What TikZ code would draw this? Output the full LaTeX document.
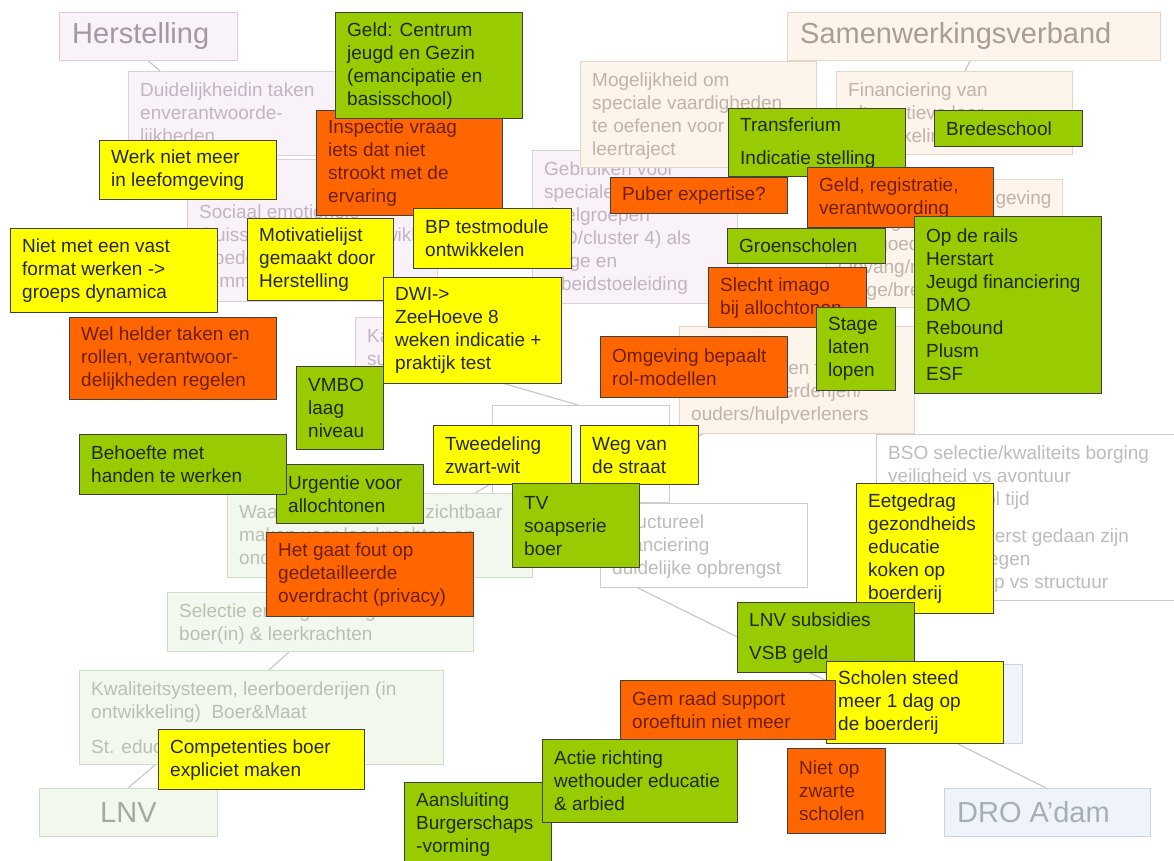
\documentclass[tikz,border=0pt]{standalone}
\usepackage{fontspec}
\setmainfont{Liberation Sans}
\usepackage{xcolor}
\usetikzlibrary{backgrounds}

% sticky note colours
\definecolor{noteyellow}{HTML}{FFFF00}
\definecolor{noteorange}{HTML}{FF6600}
\definecolor{notegreen}{HTML}{99CC00}
\definecolor{yeltext}{HTML}{262626}
\definecolor{orgtext}{HTML}{6E1E00}
\definecolor{grntext}{HTML}{1E2A05}
% faded mind map colours
\definecolor{herfill}{HTML}{F9F2F9}
\definecolor{herline}{HTML}{DCCFDC}
\definecolor{hertext}{HTML}{C2B4C2}
\definecolor{herhead}{HTML}{A597A5}
\definecolor{peachfill}{HTML}{FDF4EC}
\definecolor{peachline}{HTML}{E6D6CA}
\definecolor{peachtext}{HTML}{C0B4AA}
\definecolor{peachhead}{HTML}{A89E96}
\definecolor{lnvfill}{HTML}{F3F8EE}
\definecolor{lnvline}{HTML}{D2DDC9}
\definecolor{lnvtext}{HTML}{B9C0B1}
\definecolor{lnvhead}{HTML}{A5AAA0}
\definecolor{drofill}{HTML}{EEF4F9}
\definecolor{droline}{HTML}{C8D8E2}
\definecolor{drohead}{HTML}{A7AFB6}
\definecolor{centline}{HTML}{CDCDCD}
\definecolor{centtext}{HTML}{BCBCBC}
\definecolor{linkgray}{HTML}{C9C9C9}

\newcommand{\notefont}{\fontsize{19}{23}\selectfont}
\newcommand{\headfont}{\fontsize{29}{33}\selectfont}

\tikzset{
  note/.style={anchor=north west, inner sep=0pt, draw=black!75, line width=1.3pt},
  notetext/.style={anchor=west, xshift=12pt, inner sep=0pt, align=left, font=\notefont},
  yel/.style={note, fill=noteyellow, label={[notetext, text=yeltext]west:{#1}}},
  org/.style={note, fill=noteorange, label={[notetext, text=orgtext]west:{#1}}},
  grn/.style={note, fill=notegreen, label={[notetext, text=grntext]west:{#1}}},
  fade/.style={anchor=north west, inner sep=0pt, line width=1pt},
  her/.style={fade, draw=herline, fill=herfill},
  peach/.style={fade, draw=peachline, fill=peachfill},
  lnvbox/.style={fade, draw=lnvline, fill=lnvfill},
  drobox/.style={fade, draw=droline, fill=drofill},
  centbox/.style={fade, draw=centline, fill=white},
  fadetext/.style={anchor=north west, xshift=12pt, yshift=-12pt, inner sep=0pt, align=left, font=\notefont},
  herlab/.style={label={[fadetext, text=hertext]north west:{#1}}},
  peachlab/.style={label={[fadetext, text=peachtext]north west:{#1}}},
  lnvlab/.style={label={[fadetext, text=lnvtext]north west:{#1}}},
  centlab/.style={label={[fadetext, text=centtext]north west:{#1}}},
  headtext/.style={anchor=west, xshift=13pt, inner sep=0pt, font=\headfont},
  htxt/.style 2 args={label={[headtext, text=#1]west:{#2}}},
  link/.style={draw=linkgray, line width=1.2pt},
}

\begin{document}
\begin{tikzpicture}[x=1pt, y=-1pt]

    \useasboundingbox (0,0) rectangle (1174,861);

    % Herstelling branch
    \node[her, htxt={herhead}{Herstelling}, minimum width=178pt, minimum height=48pt] (herst) at (59,12) {};
    \node[her, herlab={Duidelijkheidin taken\\enverantwoorde-\\lijkheden}, minimum width=217pt, minimum height=84pt] (duid) at (128,71) {};
    \node[her, minimum width=250pt, minimum height=142pt,
          label={[fadetext, text=hertext, yshift=-34pt]north west:{Sociaal emotionele\\thuissituatie en de ontwikkeling\\Goede begeleiding\\communicatie}}] (soc) at (187,159) {};
    \node[her, herlab={Kansen voor\\succeservaringen}, minimum width=185pt, minimum height=61pt] (kans) at (355,317) {};
    \node[her, herlab={Gebruiken voor\\speciale\\doelgroepen\\(SO/cluster 4) als\\stage en\\arbeidstoeleiding}, minimum width=205pt, minimum height=153pt] (gebr) at (532,150) {};

    % Samenwerkingsverband branch
    \node[peach, htxt={peachhead}{Samenwerkingsverband}, minimum width=373pt, minimum height=48pt] (samen) at (787,12) {};
    \node[peach, peachlab={Financiering van\\alternatieve leer-\\ontwikkelingstrajecten}, minimum width=236pt, minimum height=83pt] (fin) at (836,71) {};
    \node[peach, peachlab={Mogelijkheid om\\speciale vaardigheden\\te oefenen voor een\\leertraject}, minimum width=236pt, minimum height=106pt] (mog) at (580,61) {};
    \node[peach, peachlab={Leren in de leefomgeving\\en zorg\\Een goed systeem\\Opvang/maatjes\\Stage/bredeschool}, minimum width=236pt, minimum height=128pt] (p3) at (826,179) {};
    \node[peach, peachlab={Goed\\samenwerken tussen\\scholen/boerderijen/\\ouders/hulpverleners}, minimum width=235pt, minimum height=107pt] (p4) at (679,326) {};

    % Centre
    \node[centbox, minimum width=177pt, minimum height=97pt] (cent) at (492,405) {};
    \node[centbox, centlab={Structureel\\financiering\\duidelijke opbrengst}, minimum width=207pt, minimum height=84pt] (struct) at (600,503) {};
    \node[centbox, centlab={BSO selectie/kwaliteits borging\\veiligheid vs avontuur\\buiten school tijd\\[14pt]Dingen die eerst gedaan zijn\\Risico's afwegen\\Vrijheid groep vs structuur}, minimum width=305pt, minimum height=166pt] (bso) at (876,434) {};

    % LNV branch
    \node[lnvbox, lnvlab={Waarde van boerderij zichtbaar\\maken voor leerkrachten en\\onderwijs}, minimum width=305pt, minimum height=84pt] (waarde) at (227,493) {};
    \node[lnvbox, lnvlab={Selectie en begeleiding\\boer(in) \& leerkrachten}, minimum width=306pt, minimum height=59pt] (sel) at (167,592) {};
    \node[lnvbox, lnvlab={Kwaliteitsysteem, leerboerderijen (in\\ontwikkeling)\ \ Boer\&Maat\\[12pt]St. educatieve boerderijen}, minimum width=364pt, minimum height=94pt] (kwal) at (79,670) {};
    \node[lnvbox, label={[headtext, text=lnvhead, xshift=48pt]west:{LNV}}, minimum width=178pt, minimum height=48pt] (lnv) at (39,788) {};

    % DRO branch
    \node[drobox, minimum width=177pt, minimum height=79pt] (b1) at (845,664) {};
    \node[drobox, htxt={drohead}{DRO A’dam}, minimum width=206pt, minimum height=48pt] (dro) at (944,788) {};

    % Links
    \begin{pgfonlayer}{background}
        \fill[white] (0,0) rectangle (1174,861);
        \draw[link] (herst.south) -- ([xshift=32pt]duid.north west);
        \draw[link] ([xshift=-4pt]samen.south) -- ([xshift=129pt]fin.north west);
        \draw[link] ([xshift=133pt]kans.south west) -- ([xshift=86pt]cent.north west);
        \draw[link] ([yshift=20pt]cent.south west) -- ([xshift=248pt]waarde.north west);
        \draw[link] ([xshift=153pt]waarde.south west) -- ([xshift=183pt]sel.north west);
        \draw[link] ([xshift=122pt]sel.south west) -- ([xshift=190pt]kwal.north west);
        \draw[link] ([xshift=76pt]kwal.south west) -- ([xshift=89pt]lnv.north west);
        \draw[link] ([xshift=24pt]p4.south west) -- ([yshift=-45pt]cent.north east);
        \draw[link] ([xshift=38pt]struct.south west) -- ([yshift=-26pt]b1.north west);
        \draw[link] ([xshift=113pt]b1.south west) -- ([xshift=102pt]dro.north west);
    \end{pgfonlayer}

    % Sticky notes, left side
    \node[yel={Werk niet meer\\in leefomgeving}, minimum width=177pt, minimum height=59pt] (werk) at (99,140) {};
    \node[yel={Niet met een vast\\format werken ->\\groeps dynamica}, minimum width=207pt, minimum height=84pt] (niet) at (10,228) {};
    \node[org={Inspectie vraag\\iets dat niet\\strookt met de\\ervaring}, minimum width=186pt, minimum height=105pt] (insp) at (316,110) {};
    \node[grn={Geld: Centrum\\jeugd en Gezin\\(emancipatie en\\basisschool)}, minimum width=187pt, minimum height=106pt] (geld) at (335,12) {};
    \node[yel={Motivatielijst\\gemaakt door\\Herstelling}, minimum width=146pt, minimum height=82pt] (motiv) at (247,218) {};
    \node[yel={BP testmodule\\ontwikkelen}, minimum width=158pt, minimum height=60pt] (bp) at (413,208) {};
    \node[yel={DWI->\\ZeeHoeve 8\\weken indicatie +\\praktijk test}, minimum width=178pt, minimum height=106pt] (dwi) at (383,277) {};
    \node[org={Wel helder taken en\\rollen, verantwoor-\\delijkheden regelen}, minimum width=207pt, minimum height=82pt] (wel) at (69,317) {};
    \node[grn={VMBO\\laag\\niveau}, minimum width=87pt, minimum height=83pt] (vmbo) at (296,366) {};
    \node[grn={Urgentie voor\\allochtonen}, minimum width=147pt, minimum height=59pt] (urg) at (276,464) {};
    \node[grn={Behoefte met\\handen te werken}, minimum width=207pt, minimum height=60pt] (beh) at (79,434) {};
    \node[org={Het gaat fout op\\gedetailleerde\\overdracht (privacy)}, minimum width=207pt, minimum height=84pt] (fout) at (266,532) {};

    % Sticky notes, middle
    \node[yel={Tweedeling\\zwart-wit}, minimum width=138pt, minimum height=59pt] (twee) at (433,425) {};
    \node[yel={Weg van\\de straat}, minimum width=118pt, minimum height=59pt] (weg) at (580,425) {};
    \node[grn={TV\\soapserie\\boer}, minimum width=127pt, minimum height=84pt] (tv) at (512,483) {};
    \node[org={Omgeving bepaalt\\rol-modellen}, minimum width=187pt, minimum height=61pt] (omg) at (600,336) {};

    % Sticky notes, right side
    \node[grn={Transferium\\[10pt]Indicatie stelling}, minimum width=177pt, minimum height=68pt] (trans) at (728,108) {};
    \node[org={Puber expertise?}, minimum width=177pt, minimum height=36pt] (puber) at (610,177) {};
    \node[org={Geld, registratie,\\verantwoording}, minimum width=186pt, minimum height=60pt] (gldreg) at (807,167) {};
    \node[grn={Bredeschool}, minimum width=148pt, minimum height=36pt] (brede) at (934,110) {};
    \node[grn={Groenscholen}, minimum width=158pt, minimum height=35pt] (groen) at (727,228) {};
    \node[org={Slecht imago\\bij allochtonen}, minimum width=158pt, minimum height=60pt] (slecht) at (708,267) {};
    \node[grn={Stage\\laten\\lopen}, minimum width=79pt, minimum height=83pt] (stage) at (816,307) {};
    \node[grn={Op de rails\\Herstart\\Jeugd financiering\\DMO\\Rebound\\Plusm\\ESF}, minimum width=187pt, minimum height=177pt] (rails) at (914,216) {};

    % Sticky notes, bottom
    \node[yel={Eetgedrag\\gezondheids\\educatie\\koken op\\boerderij}, minimum width=137pt, minimum height=130pt] (eet) at (856,483) {};
    \node[grn={LNV subsidies\\[10pt]VSB geld}, minimum width=177pt, minimum height=70pt] (lnvsub) at (737,602) {};
    \node[yel={Scholen steed\\meer 1 dag op\\de boerderij}, minimum width=177pt, minimum height=82pt] (schol) at (826,661) {};
    \node[org={Gem raad support\\oroeftuin niet meer}, minimum width=215pt, minimum height=59pt] (gem) at (620,680) {};
    \node[grn={Aansluiting\\Burgerschaps\\-vorming}, minimum width=147pt, minimum height=84pt] (aansl) at (404,782) {};
    \node[grn={Actie richting\\wethouder educatie\\\& arbied}, minimum width=195pt, minimum height=83pt] (actie) at (542,739) {};
    \node[org={Niet op\\zwarte\\scholen}, minimum width=98pt, minimum height=85pt] (nietop) at (787,748) {};
    \node[yel={Competenties boer\\expliciet maken}, minimum width=206pt, minimum height=60pt] (comp) at (158,729) {};

\end{tikzpicture}
\end{document}
